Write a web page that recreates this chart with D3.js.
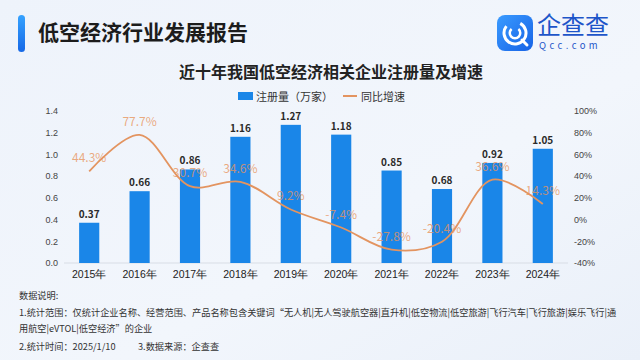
<!DOCTYPE html>
<html>
<head>
<meta charset="utf-8">
<script src="https://cdn.jsdelivr.net/npm/d3@7"></script>
<style>
  html, body { margin: 0; padding: 0; }
  body { width: 640px; height: 360px; overflow: hidden; }
  svg { display: block; font-family: "Noto Sans CJK SC", "Noto Sans", sans-serif; }
</style>
</head>
<body>
<script>
// chart data
var years = ["2015年", "2016年", "2017年", "2018年", "2019年", "2020年", "2021年", "2022年", "2023年", "2024年"];
var counts = [0.37, 0.66, 0.86, 1.16, 1.27, 1.18, 0.85, 0.68, 0.92, 1.05];
var growth = [44.3, 77.7, 30.7, 34.6, 9.2, -7.4, -27.8, -20.4, 36.6, 14.3];
var leftTicks = [0, 0.2, 0.4, 0.6, 0.8, 1.0, 1.2, 1.4];
var rightTicks = [-40, -20, 0, 20, 40, 60, 80, 100];
var notes = [
    "数据说明:",
    "1.统计范围：仅统计企业名称、经营范围、产品名称包含关键词\u201c无人机|无人驾驶航空器|直升机|低空物流|低空旅游|飞行汽车|飞行旅游|娱乐飞行|通",
    "用航空|eVTOL|低空经济\u201d的企业"
];

var w = 640, h = 360;
var blue = "#1a86e8", orange = "#e39460";

var svg = d3.select("body").append("svg")
    .attr("width", w)
    .attr("height", h);

var defs = svg.append("defs");

// background gradient
var bg = defs.append("linearGradient").attr("id", "bg")
    .attr("x1", 0).attr("y1", 0).attr("x2", 1).attr("y2", 1);
bg.append("stop").attr("offset", "0%").attr("stop-color", "#eef3fb");
bg.append("stop").attr("offset", "60%").attr("stop-color", "#f2f6fc");
bg.append("stop").attr("offset", "100%").attr("stop-color", "#eaf0f9");

var barGrad = defs.append("linearGradient").attr("id", "hbar")
    .attr("x1", 0).attr("y1", 0).attr("x2", 0).attr("y2", 1);
barGrad.append("stop").attr("offset", "0%").attr("stop-color", "#35a2ff");
barGrad.append("stop").attr("offset", "100%").attr("stop-color", "#1668e6");

var logoGrad = defs.append("linearGradient").attr("id", "logo")
    .attr("x1", 0).attr("y1", 0).attr("x2", 1).attr("y2", 1);
logoGrad.append("stop").attr("offset", "0%").attr("stop-color", "#3a9bff");
logoGrad.append("stop").attr("offset", "100%").attr("stop-color", "#1763e6");

svg.append("rect")
    .attr("width", w)
    .attr("height", h)
    .attr("fill", "url(#bg)");

// header
svg.append("rect")
    .attr("x", 18).attr("y", 15)
    .attr("width", 7).attr("height", 37)
    .attr("rx", 3.5)
    .attr("fill", "url(#hbar)");

svg.append("text")
    .attr("x", 38).attr("y", 39.5)
    .attr("font-size", 21)
    .attr("font-weight", "bold")
    .attr("fill", "#1c1c1c")
    .text("低空经济行业发展报告");

// logo
var logo = svg.append("g").attr("transform", "translate(497,15)");
logo.append("rect")
    .attr("width", 36).attr("height", 36)
    .attr("rx", 8)
    .attr("fill", "url(#logo)");
var arc = d3.arc();
logo.append("path")
    .attr("transform", "translate(18,18)")
    .attr("d", arc({innerRadius: 9.5, outerRadius: 12.5, startAngle: 0.5, endAngle: 2 * Math.PI - 0.9}))
    .attr("fill", "#fff");
logo.append("path")
    .attr("transform", "translate(18,18)")
    .attr("d", arc({innerRadius: 4, outerRadius: 6.5, startAngle: 0.7, endAngle: 2 * Math.PI - 0.7}))
    .attr("fill", "#fff");
logo.append("line")
    .attr("x1", 25).attr("y1", 25)
    .attr("x2", 30).attr("y2", 30)
    .attr("stroke", "#fff")
    .attr("stroke-width", 3)
    .attr("stroke-linecap", "round");

svg.append("text")
    .attr("x", 537).attr("y", 34)
    .attr("font-size", 24)
    .attr("fill", "#1d55c9")
    .text("企查查");
svg.append("text")
    .attr("x", 539).attr("y", 49)
    .attr("font-size", 9.5)
    .attr("letter-spacing", 3.4)
    .attr("fill", "#1d55c9")
    .text("Qcc.com");

// title
svg.append("text")
    .attr("x", 331).attr("y", 77.5)
    .attr("text-anchor", "middle")
    .attr("font-size", 16)
    .attr("font-weight", "bold")
    .attr("fill", "#222")
    .text("近十年我国低空经济相关企业注册量及增速");

// legend
svg.append("rect")
    .attr("x", 238).attr("y", 92)
    .attr("width", 15).attr("height", 8)
    .attr("fill", blue);
svg.append("text")
    .attr("x", 256).attr("y", 100.5)
    .attr("font-size", 11)
    .attr("fill", "#333")
    .text("注册量（万家）");
svg.append("line")
    .attr("x1", 343).attr("x2", 357)
    .attr("y1", 96).attr("y2", 96)
    .attr("stroke", orange)
    .attr("stroke-width", 2);
svg.append("text")
    .attr("x", 361).attr("y", 100.5)
    .attr("font-size", 11)
    .attr("fill", "#333")
    .text("同比增速");

// scales
var x = d3.scaleBand()
    .domain(years)
    .range([64, 568])
    .paddingInner(0.6)
    .paddingOuter(0.3);

var y = d3.scaleLinear()
    .domain([0, 1.4])
    .range([263, 110.7]);

var y2 = d3.scaleLinear()
    .domain([-40, 100])
    .range([263, 110.7]);

// baseline
svg.append("line")
    .attr("x1", 64).attr("x2", 568)
    .attr("y1", y(0)).attr("y2", y(0))
    .attr("stroke", "#d8dde5")
    .attr("stroke-width", 1);

// left axis
var leftAxis = svg.append("g")
    .attr("transform", "translate(58,0)")
    .call(d3.axisLeft(y).tickValues(leftTicks).tickFormat(d3.format(".1f")).tickSize(0).tickPadding(0));
leftAxis.select(".domain").remove();
leftAxis.selectAll("text")
    .attr("font-size", 9)
    .attr("fill", "#444");

// right axis
var rightAxis = svg.append("g")
    .attr("transform", "translate(574,0)")
    .call(d3.axisRight(y2).tickValues(rightTicks).tickFormat(function(d){ return d + "%"; }).tickSize(0).tickPadding(0));
rightAxis.select(".domain").remove();
rightAxis.selectAll("text")
    .attr("font-size", 9)
    .attr("fill", "#444");

// x axis labels
var xAxis = svg.append("g")
    .attr("transform", "translate(0," + y(0) + ")")
    .call(d3.axisBottom(x).tickSize(0).tickPadding(8));
xAxis.select(".domain").remove();
xAxis.selectAll("text")
    .attr("font-size", 10.5)
    .attr("fill", "#222");

// bars
svg.selectAll(".bar")
    .data(counts)
    .enter()
    .append("rect")
    .attr("class", "bar")
    .attr("x", function(d, i){ return x(years[i]); })
    .attr("y", function(d){ return y(d); })
    .attr("width", x.bandwidth())
    .attr("height", function(d){ return y(0) - y(d); })
    .attr("fill", blue);

svg.selectAll(".barLabel")
    .data(counts)
    .enter()
    .append("text")
    .attr("class", "barLabel")
    .attr("x", function(d, i){ return x(years[i]) + x.bandwidth() / 2; })
    .attr("y", function(d){ return y(d) - 5; })
    .attr("text-anchor", "middle")
    .attr("font-size", 10)
    .attr("font-weight", "bold")
    .attr("fill", "#2a2a2a")
    .text(function(d){ return d.toFixed(2); });

// growth line
var line = d3.line()
    .x(function(d, i){ return x(years[i]) + x.bandwidth() / 2; })
    .y(function(d){ return y2(d); })
    .curve(d3.curveCatmullRom.alpha(0.5));

svg.append("path")
    .datum(growth)
    .attr("d", line)
    .attr("fill", "none")
    .attr("stroke", orange)
    .attr("stroke-width", 1.8);

svg.selectAll(".growthLabel")
    .data(growth)
    .enter()
    .append("text")
    .attr("class", "growthLabel")
    .attr("x", function(d, i){ return x(years[i]) + x.bandwidth() / 2; })
    .attr("y", function(d){ return y2(d) - 9; })
    .attr("text-anchor", "middle")
    .attr("font-size", 12)
    .attr("fill", "#e8945c")
    .attr("fill-opacity", 0.78)
    .text(function(d){ return d.toFixed(1) + "%"; });

// footnotes
svg.selectAll(".note")
    .data(notes)
    .enter()
    .append("text")
    .attr("class", "note")
    .attr("x", 19)
    .attr("y", function(d, i){ return 299 + i * 16.5; })
    .attr("font-size", 9.2)
    .attr("fill", "#333")
    .text(function(d){ return d; });

svg.append("text")
    .attr("x", 19).attr("y", 350)
    .attr("font-size", 9.2)
    .attr("fill", "#333")
    .text("2.统计时间：2025/1/10");
svg.append("text")
    .attr("x", 138).attr("y", 350)
    .attr("font-size", 9.2)
    .attr("fill", "#333")
    .text("3.数据来源：企查查");
</script>
</body>
</html>
